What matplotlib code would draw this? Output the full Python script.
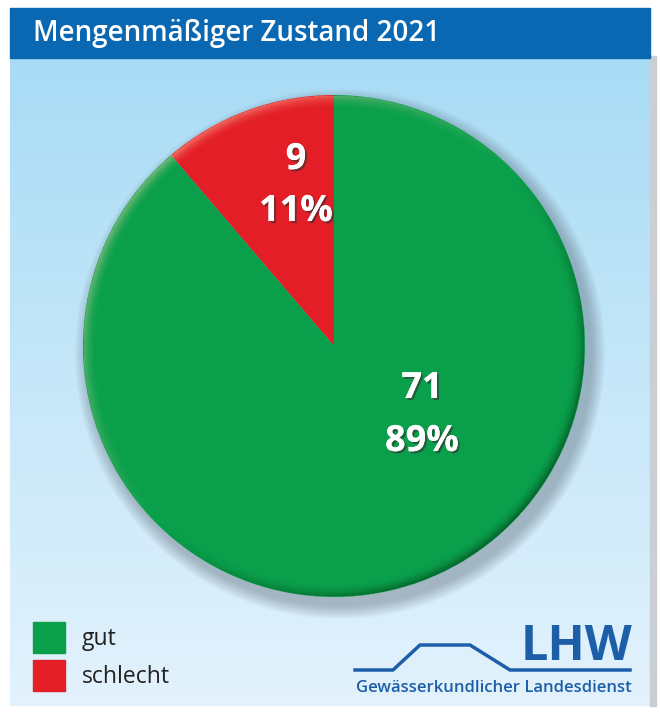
import numpy as np
import matplotlib.pyplot as plt
from matplotlib.patches import Rectangle, Circle
import matplotlib.patheffects as pe

# data
labels = ['schlecht', 'gut']
counts = [9, 71]
percents = ['11%', '89%']
colors = ['#e41e26', '#0aa04b']
title = 'Mengenmäßiger Zustand 2021'

W, H = 660, 718
fig = plt.figure(figsize=(W / 100, H / 100), dpi=100)
ax = fig.add_axes([0, 0, 1, 1])

# light blue background with vertical gradient
grad = np.linspace(0, 1, 256).reshape(-1, 1)
top = np.array([0.66, 0.86, 0.96])
bot = np.array([0.89, 0.95, 0.99])
img = top + (bot - top) * grad[..., None]
ax.imshow(img, extent=[10, 650, 12, 660], aspect='auto', zorder=0)
ax.add_patch(Rectangle((650, 12), 6, 650, color='#c9cfd4', zorder=0))

# header bar
ax.add_patch(Rectangle((10, 660), 640, 50, color='#0a68b2', zorder=1))
ax.text(33, 684, title, color='white', fontsize=20, fontweight='semibold',
        family='Open Sans', va='center', ha='left', zorder=2)

# pie
cx, cy, r = 334, 372, 251
# soft drop shadow
for i in range(14):
    ax.add_patch(Circle((cx + 6, cy - 8), r + 14 - i, color='#55626e',
                        alpha=0.03, lw=0, zorder=2))
wedges, _ = ax.pie(counts, colors=colors, startangle=90, counterclock=True,
                   center=(cx, cy), radius=r, frame=True,
                   wedgeprops=dict(linewidth=0))
for w in wedges:
    w.set_zorder(3)

# rim shading: light at top-left, dark at bottom-right
n = 600
xs = np.linspace(cx - r, cx + r, n)
ys = np.linspace(cy - r, cy + r, n)
X, Y = np.meshgrid(xs, ys)
D = np.hypot(X - cx, Y - cy)
ang = np.arctan2(Y - cy, X - cx)
edge = np.clip(1 - (r - D) / 14, 0, 1) ** 2
edge[D > r] = 0
dirv = np.cos(ang - np.deg2rad(135))
shade = np.zeros((n, n, 4))
light = dirv > 0
shade[..., :3] = np.where(light[..., None], [1.0, 0.85, 0.7], [0.0, 0.15, 0.05])
shade[..., 3] = edge * np.where(light, 0.45 * dirv, 0.55 * -dirv)
im = ax.imshow(shade, extent=[cx - r, cx + r, cy - r, cy + r], origin='lower',
               zorder=4, interpolation='bilinear')
im.set_clip_path(Circle((cx, cy), r, transform=ax.transData))

shadow = [pe.withSimplePatchShadow(offset=(1.5, -1.5), shadow_rgbFace='#333333', alpha=0.6), pe.Normal()]
pos = [(296, 718 - 160, 718 - 212), (422, 718 - 389, 718 - 442)]
for (x, y1, y2), c, p in zip(pos, counts, percents):
    ax.text(x, y1, str(c), color='white', fontsize=26, fontweight='bold', family='Open Sans',
            ha='center', va='center', zorder=5, path_effects=shadow)
    ax.text(x, y2, p, color='white', fontsize=26, fontweight='bold', family='Open Sans',
            ha='center', va='center', zorder=5, path_effects=shadow)

# legend
for i, (lab, c) in enumerate(zip(['gut', 'schlecht'], colors[::-1])):
    y = 718 - 653 - i * 38
    ax.add_patch(Rectangle((33, y), 32, 31, color=c, zorder=3))
    ax.text(82, y + 14, lab, color='#222222', fontsize=16.5, family='Open Sans',
            va='center', ha='left', zorder=3)

# LHW logo
blue = '#1d5ea8'
lx = [355, 393, 420, 470, 510, 630]
ly = [670, 670, 645, 645, 670, 670]
ax.plot(lx, [718 - v for v in ly], color=blue, lw=2.5, solid_joinstyle='miter', zorder=3)
ax.text(632, 718 - 647, 'LHW', color=blue, fontsize=35, fontweight='bold', family='Open Sans',
        ha='right', va='center', zorder=3)
ax.text(632, 718 - 688, 'Gewässerkundlicher Landesdienst', color=blue, fontsize=12,
        fontweight='semibold', family='Open Sans', ha='right', va='center', zorder=3)

ax.set_xlim(0, W)
ax.set_ylim(0, H)
ax.set_aspect('equal')
ax.axis('off')

fig.savefig('out.png', dpi=100, facecolor='white')
